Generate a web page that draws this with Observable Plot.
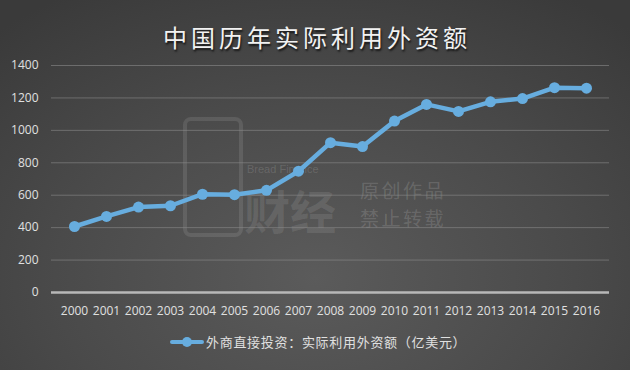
<!DOCTYPE html>
<html><head><meta charset="utf-8">
<script src="https://cdn.jsdelivr.net/npm/d3@7"></script>
<script src="https://cdn.jsdelivr.net/npm/@observablehq/plot@0.6"></script>
<style>
html,body{margin:0;padding:0;}
#wrap{position:relative;width:630px;height:370px;overflow:hidden;
 background:radial-gradient(ellipse 75% 90% at 50% 75%, #5b5b5b 0%, #4a4a4a 55%, #3a3a3a 100%);
 font-family:"Noto Sans CJK SC","Noto Sans",sans-serif;}
#title{position:absolute;left:0;width:630px;top:19px;text-align:center;font-size:24px;letter-spacing:4px;text-indent:4px;
 color:#f2f2f2;text-shadow:1px 2px 2px rgba(0,0,0,0.7);line-height:36px;}
#chart{position:absolute;left:0;top:0;}
#legend{position:absolute;top:332px;left:170px;font-size:13px;letter-spacing:0.7px;color:#e0e0e0;display:flex;align-items:center;line-height:20px;}
#legend .sw{position:relative;width:34px;height:20px;margin-right:2px;}
#legend .sw .ln{position:absolute;left:0;top:8px;width:34px;height:4px;background:#67addf;border-radius:2px;}
#legend .sw .dt{position:absolute;left:12px;top:5px;width:10px;height:10px;border-radius:50%;background:#67addf;}
.wm{position:absolute;color:rgba(255,255,255,0.15);font-size:19px;letter-spacing:2.5px;line-height:20px;}
.wm2{position:absolute;color:rgba(255,255,255,0.14);font-size:11px;line-height:12px;font-family:"Liberation Sans",sans-serif;}
.logo{position:absolute;left:183px;top:117px;width:52px;height:112px;border:4px solid rgba(255,255,255,0.1);border-radius:8px;}
.wm3{position:absolute;color:rgba(255,255,255,0.1);font-size:46px;line-height:46px;font-weight:bold;}
</style></head>
<body><div id="wrap">
<div id="title">中国历年实际利用外资额</div>
<div class="logo"></div>
<div class="wm3" style="left:244px;top:186px;">财经</div>
<div class="wm2" style="left:247px;top:163px;">Bread Finance</div>
<div class="wm" style="left:360px;top:180px;">原创作品</div>
<div class="wm" style="left:360px;top:208px;">禁止转载</div>
<div id="chart"></div>
<div id="legend"><div class="sw"><div class="ln"></div><div class="dt"></div></div><span>外商直接投资：实际利用外资额（亿美元）</span></div>
</div>
<script>
const years = ["2000","2001","2002","2003","2004","2005","2006","2007","2008","2009","2010","2011","2012","2013","2014","2015","2016"];
const values = [407, 469, 527, 535, 606, 603, 630, 748, 924, 900, 1057, 1160, 1117, 1176, 1196, 1263, 1260];
const yTicks = [0, 200, 400, 600, 800, 1000, 1200, 1400];
const data = years.map((y, i) => ({year: y, value: values[i]}));
const lineColor = "#67addf";
const chart = Plot.plot({
  width: 630, height: 324,
  marginTop: 65, marginBottom: 32, marginLeft: 51, marginRight: 21,
  style: {background: "transparent", color: "#dddddd", fontSize: "12px", fontFamily: "'Open Sans','Noto Sans',sans-serif"},
  x: {type: "point", domain: years, padding: 0.5, label: null},
  y: {domain: [0, 1400], label: null},
  marks: [
    Plot.gridY(yTicks.filter(d => d > 0), {stroke: "#8a8a8a", strokeOpacity: 0.6, strokeWidth: 1}),
    Plot.ruleY([0], {stroke: "#b8b8b8", strokeWidth: 2.5}),
    Plot.axisY(yTicks, {tickSize: 0, tickPadding: 13, fill: "#e0e0e0", tickFormat: d => String(d)}),
    Plot.axisX(years, {tickSize: 0, tickPadding: 14, fill: "#e0e0e0"}),
    Plot.line(data, {x: "year", y: "value", stroke: lineColor, strokeWidth: 4.5, curve: "linear"}),
    Plot.dot(data, {x: "year", y: "value", r: 5.5, fill: lineColor, stroke: "none"})
  ]
});
document.getElementById("chart").appendChild(chart);
</script>
</body></html>
